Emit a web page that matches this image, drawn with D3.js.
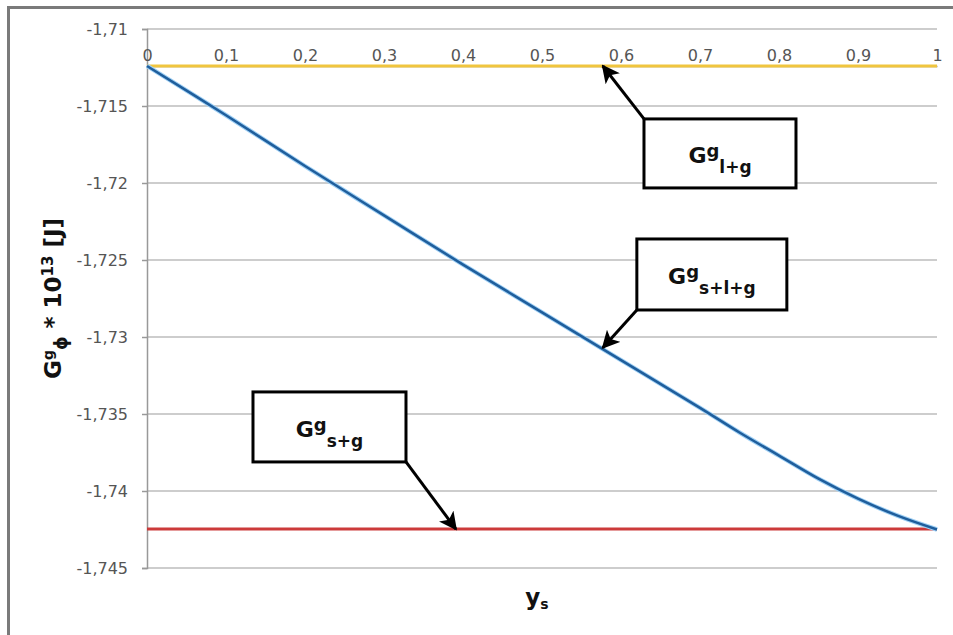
<!DOCTYPE html>
<html>
<head>
<meta charset="utf-8">
<script src="https://cdn.jsdelivr.net/npm/d3@7"></script>
<style>
  body { margin: 0; background: #fff; }
  text { font-family: "DejaVu Sans", Verdana, sans-serif; }
</style>
</head>
<body>
<div id="chart"></div>
<script>
// data
var xValues = [0, 0.1, 0.2, 0.3, 0.4, 0.5, 0.6, 0.7, 0.75, 0.8, 0.85, 0.9, 0.95, 1];
var gSLG = [-1.7124, -1.7156, -1.7189, -1.7221, -1.7253, -1.7284, -1.7315, -1.7346, -1.7362, -1.7377, -1.7392, -1.7405, -1.7416, -1.7425];
var gLG = -1.7124;
var gSG = -1.74247;
var xTicks = [0, 0.1, 0.2, 0.3, 0.4, 0.5, 0.6, 0.7, 0.8, 0.9, 1];
var yTicks = [-1.71, -1.715, -1.72, -1.725, -1.73, -1.735, -1.74, -1.745];

var W = 953, H = 635;
var margin = { top: 29, right: 16, bottom: 67, left: 147 },
    width = W - margin.left - margin.right,
    height = H - margin.top - margin.bottom;

var root = d3.select("#chart").append("svg")
    .attr("width", W)
    .attr("height", H);

var defs = root.append("defs");
defs.append("marker")
    .attr("id", "arrow")
    .attr("viewBox", "0 0 10 10")
    .attr("refX", 9)
    .attr("refY", 5)
    .attr("markerWidth", 6)
    .attr("markerHeight", 6)
    .attr("markerUnits", "strokeWidth")
    .attr("orient", "auto")
    .append("path")
    .attr("d", "M0,0 L10,5 L0,10 L2.5,5 Z")
    .attr("fill", "#000");

// outer frame
root.append("rect")
    .attr("x", 8.5).attr("y", 7.5)
    .attr("width", W).attr("height", H)
    .attr("fill", "none")
    .attr("stroke", "#7a7a7a")
    .attr("stroke-width", 3);

var svg = root.append("g")
    .attr("transform", "translate(" + margin.left + "," + margin.top + ")");

var x = d3.scaleLinear().domain([0, 1]).range([0, width]);
var y = d3.scaleLinear().domain([-1.745, -1.71]).range([height, 0]);

function comma(d) { return String(+d.toFixed(3)).replace(".", ","); }

// gridlines
svg.append("g")
    .selectAll("line")
    .data(yTicks)
    .enter()
    .append("line")
    .attr("x1", 0).attr("x2", width)
    .attr("y1", function (d) { return y(d); })
    .attr("y2", function (d) { return y(d); })
    .attr("stroke", "#bdbdbd")
    .attr("stroke-width", 1.5);

// y axis
var yAxis = svg.append("g")
    .call(d3.axisLeft(y).tickValues(yTicks).tickSize(5).tickPadding(14).tickFormat(comma));
yAxis.select(".domain").attr("stroke", "#999").attr("stroke-width", 1.5);
yAxis.selectAll(".tick line").attr("stroke", "#999").attr("stroke-width", 1.5);
yAxis.selectAll(".tick text")
    .style("font-family", "'DejaVu Sans', Verdana, sans-serif")
    .style("font-size", "16px")
    .style("fill", "#555");

// x axis at top, crossing at the upper line
var xAxis = svg.append("g")
    .attr("transform", "translate(0," + y(gLG) + ")")
    .call(d3.axisTop(x).tickValues(xTicks).tickSize(0).tickPadding(5).tickFormat(comma));
xAxis.select(".domain").attr("stroke", "#999").attr("stroke-width", 1.5);
xAxis.selectAll(".tick text")
    .style("font-family", "'DejaVu Sans', Verdana, sans-serif")
    .style("font-size", "16px")
    .style("fill", "#555");

// series
svg.append("line")
    .attr("x1", x(0)).attr("x2", x(1))
    .attr("y1", y(gSG)).attr("y2", y(gSG))
    .attr("stroke", "#cc3a3a")
    .attr("stroke-width", 3);

svg.append("line")
    .attr("x1", x(0)).attr("x2", x(1))
    .attr("y1", y(gLG)).attr("y2", y(gLG))
    .attr("stroke", "#f0c53e")
    .attr("stroke-width", 3);

var line = d3.line()
    .x(function (d, i) { return x(xValues[i]); })
    .y(function (d) { return y(d); })
    .curve(d3.curveCatmullRom);

svg.append("path")
    .datum(gSLG)
    .attr("d", line)
    .attr("fill", "none")
    .attr("stroke", "#9fd0f5")
    .attr("stroke-width", 4.5);

svg.append("path")
    .datum(gSLG)
    .attr("d", line)
    .attr("fill", "none")
    .attr("stroke", "#1f5e9c")
    .attr("stroke-width", 2.5);

// annotations: box centre and arrow tip in data units
var notes = [
    { sub: "l+g", cx: 0.7253, cy: -1.71808, w: 152, h: 69, corner: "tl", tx: 0.577, ty: gLG },
    { sub: "s+l+g", cx: 0.715, cy: -1.72594, w: 150, h: 71, corner: "bl", tx: 0.577, ty: -1.7307 },
    { sub: "s+g", cx: 0.231, cy: -1.73584, w: 153, h: 70, corner: "br", tx: 0.391, ty: gSG }
];

notes.forEach(function (n) {
    var bx = x(n.cx) - n.w / 2, by = y(n.cy) - n.h / 2;
    var sx = n.corner === "br" ? bx + n.w : bx;
    var sy = n.corner === "tl" ? by : by + n.h;

    svg.append("line")
        .attr("x1", sx).attr("y1", sy)
        .attr("x2", x(n.tx)).attr("y2", y(n.ty))
        .attr("stroke", "#000")
        .attr("stroke-width", 3)
        .attr("marker-end", "url(#arrow)");

    svg.append("rect")
        .attr("x", bx).attr("y", by)
        .attr("width", n.w).attr("height", n.h)
        .attr("fill", "#fff")
        .attr("stroke", "#000")
        .attr("stroke-width", 3);

    var t = svg.append("text")
        .attr("x", x(n.cx))
        .attr("y", y(n.cy) + 10)
        .attr("text-anchor", "middle")
        .attr("font-weight", "bold")
        .attr("font-size", 22)
        .attr("fill", "#111");
    t.append("tspan").text("G");
    t.append("tspan").attr("font-size", 18).attr("dy", -6).text("g");
    t.append("tspan").attr("font-size", 17).attr("dy", 16).text(n.sub);
});

// axis titles
var xt = svg.append("text")
    .attr("x", 390)
    .attr("y", height + 37)
    .attr("text-anchor", "middle")
    .attr("font-weight", "bold")
    .attr("font-size", 23)
    .attr("fill", "#111");
xt.append("tspan").text("y");
xt.append("tspan").attr("font-size", 14).attr("dy", 4).text("s");

var yt = svg.append("text")
    .attr("transform", "translate(" + (-margin.left + 61) + "," + (height / 2) + ") rotate(-90)")
    .attr("text-anchor", "middle")
    .attr("font-weight", "bold")
    .attr("font-size", 23)
    .attr("fill", "#111");
yt.append("tspan").text("G");
yt.append("tspan").attr("font-size", 14).attr("dy", -8).text("g");
yt.append("tspan").attr("font-size", 17).attr("dy", 14).text("\u03d5");
yt.append("tspan").attr("dy", -6).text(" * 10");
yt.append("tspan").attr("font-size", 15).attr("dy", -8).text("13");
yt.append("tspan").attr("dy", 8).text(" [J]");
</script>
</body>
</html>
